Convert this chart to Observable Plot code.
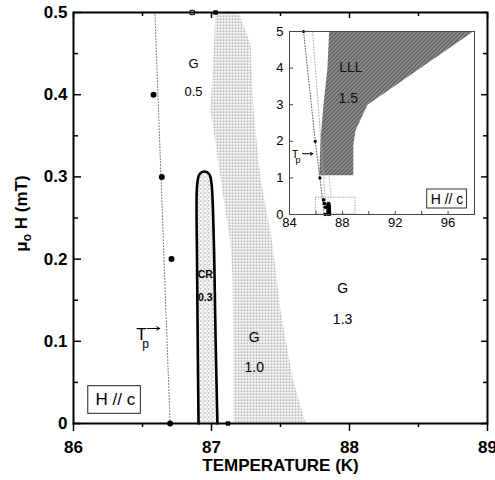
<!DOCTYPE html>
<html>
<head>
<meta charset="utf-8">
<script src="https://cdn.jsdelivr.net/npm/d3@7"></script>
<script src="https://cdn.jsdelivr.net/npm/@observablehq/plot@0.6"></script>
<style>
  body { margin: 0; background: #fff; }
  #wrap { position: relative; width: 495px; height: 480px; }
  #inset { position: absolute; left: 275px; top: 23px; }
</style>
</head>
<body>
<div id="wrap"><div id="main"></div><div id="inset"></div></div>
<script>
const FONT = "'Liberation Sans', Arial, Helvetica, sans-serif";

// ---------- main panel data ----------
const xTicksMajor = [86, 87, 88, 89];
const xTicksMinor = [86.5, 87.5, 88.5];
const yTicksMajor = [0, 0.1, 0.2, 0.3, 0.4, 0.5];
const yTicksMinor = [0.05, 0.15, 0.25, 0.35, 0.45];

// Tp line and points
const tpLineT = [86.70, 86.59];
const tpLineH = [0, 0.5];
const tpPointT = [86.58, 86.64, 86.71, 86.70];
const tpPointH = [0.4, 0.3, 0.2, 0];

// CR region outline
const crT = [86.906, 86.900, 86.895, 86.892, 86.897, 86.912, 86.948, 86.985, 87.000, 87.007, 87.020, 87.030, 87.043];
const crH = [0, 0.1, 0.2, 0.275, 0.292, 0.303, 0.3066, 0.303, 0.292, 0.275, 0.2, 0.1, 0];

// G (1.0) stippled region outline
const gT = [87.159, 87.159, 87.152, 87.138, 87.101, 87.065, 87.029, 86.993, 87.029, 87.196, 87.283, 87.304, 87.355, 87.442, 87.500, 87.587, 87.681];
const gH = [0, 0.097, 0.178, 0.219, 0.259, 0.299, 0.341, 0.381, 0.5, 0.5, 0.462, 0.381, 0.299, 0.219, 0.137, 0.056, 0];

// small markers
const openSqT = [86.86];
const openSqH = [0.5];
const fillSqT = [87.03, 87.12];
const fillSqH = [0.5, 0];

// labels
const topLabText = ["G", "0.5"];
const topLabT = [86.87, 86.87];
const topLabH = [0.437, 0.404];
const crLabText = ["CR", "0.3"];
const crLabT = [86.955, 86.955];
const crLabH = [0.181, 0.153];
const gLabText = ["G", "1.0", "G", "1.3"];
const gLabT = [87.31, 87.31, 87.95, 87.95];
const gLabH = [0.104, 0.068, 0.164, 0.127];
const tpLabT = [86.493];
const tpLabH = [0.108];
const tpArrowT = [86.536, 86.625];
const tpArrowH = [0.1156, 0.1156];
const boxT = [86.107, 86.488];
const boxH = [0.0118, 0.0454];
const boxLabT = [86.304];
const boxLabH = [0.029];
const boxText = "H // c";
const xLabel = "TEMPERATURE (K)";

// ---------- inset data ----------
const inXTicks = [84, 88, 92, 96];
const inXMinor = [86, 90, 94];
const inYTicks = [0, 1, 2, 3, 4, 5];
const lllT = [86.26, 86.34, 86.57, 86.87, 87.0, 97.9, 89.9, 89.0, 88.83, 88.83];
const lllH = [1.07, 2, 3, 4, 5, 5, 3.0, 2.3, 1.9, 1.07];
const inTpT = [85.06, 85.95, 86.3, 86.62];
const inTpH = [5, 2, 1, 0];
const inTpPtT = [85.06, 85.95, 86.3];
const inTpPtH = [5, 2, 1];
const inTp2T = [85.75, 86.8];
const inTp2H = [5, 0];
const inFaintT = [87.0, 87.15];
const inFaintH = [1.05, 0.45];
const zoomBoxT = [86, 89];
const zoomBoxH = [0, 0.46];
const lllLabText = ["LLL", "1.5"];
const lllLabT = [88.64, 88.45];
const lllLabH = [4.02, 3.18];
const inTpLabT = [84.42];
const inTpLabH = [1.64];
const inArrowT = [84.98, 85.76];
const inArrowH = [1.66, 1.66];
const inBoxT = [94.42, 97.43];
const inBoxH = [0.164, 0.683];
const inBoxLabT = [95.92];
const inBoxLabH = [0.42];

const pts = (xs, ys) => xs.map((x, i) => ({x, y: ys[i]}));
const labs = (xs, ys, ts) => xs.map((x, i) => ({x, y: ys[i], t: ts[i]}));

// ---------- main plot ----------
const W = 495, Ht = 480, ML = 73, MR = 8, MT = 12, MB = 57;
const FW = W - ML - MR, FH = Ht - MT - MB;

const main = Plot.plot({
  width: W, height: Ht,
  marginLeft: ML, marginRight: MR, marginTop: MT, marginBottom: MB,
  style: {fontFamily: FONT, background: "white", color: "black", overflow: "visible"},
  x: {domain: [86, 89]},
  y: {domain: [0, 0.5]},
  marks: [
    Plot.line(pts(gT, gH), {x: "x", y: "y", fill: "url(#stipG)", stroke: "none"}),
    Plot.line(pts(crT, crH), {x: "x", y: "y", fill: "url(#stipCR)", stroke: "black", strokeWidth: 2.6, curve: "catmull-rom"}),
    Plot.line(pts(tpLineT, tpLineH), {x: "x", y: "y", stroke: "#777", strokeWidth: 1, strokeDasharray: "1,2"}),
    Plot.dot(pts(tpPointT, tpPointH), {x: "x", y: "y", r: 3, fill: "black"}),
    Plot.dot(pts(openSqT, openSqH), {x: "x", y: "y", r: 2.5, symbol: "square", stroke: "black", strokeWidth: 1, fill: "white"}),
    Plot.dot(pts(fillSqT, fillSqH), {x: "x", y: "y", r: 2.5, symbol: "square", fill: "black"}),
    Plot.text(labs(topLabT, topLabH, topLabText), {x: "x", y: "y", text: "t", fontSize: 13}),
    Plot.text(labs(crLabT, crLabH, crLabText), {x: "x", y: "y", text: "t", fontSize: 10.5, fontWeight: "bold"}),
    Plot.text(labs(gLabT, gLabH, gLabText), {x: "x", y: "y", text: "t", fontSize: 14}),
    // Tp label
    Plot.text(pts(tpLabT, tpLabH), {x: "x", y: "y", text: () => "T", fontSize: 17}),
    Plot.text(pts(tpLabT, tpLabH), {x: "x", y: "y", text: () => "p", fontSize: 12, dx: 4, dy: 9}),
    Plot.arrow([0], {x1: () => tpArrowT[0], x2: () => tpArrowT[1], y1: () => tpArrowH[0], y2: () => tpArrowH[1], stroke: "black", strokeWidth: 1, headLength: 5}),
    // H // c box
    Plot.rect([0], {x1: () => boxT[0], x2: () => boxT[1], y1: () => boxH[0], y2: () => boxH[1], fill: "white", stroke: "#222", strokeWidth: 1}),
    Plot.text(pts(boxLabT, boxLabH), {x: "x", y: "y", text: () => boxText, fontSize: 17}),
    // frame
    Plot.frame({stroke: "black", strokeWidth: 2}),
    // inward ticks: left and right (y), top (x)
    Plot.tickY(yTicksMajor, {y: d => d, insetRight: FW - 8, stroke: "black", strokeWidth: 1.5}),
    Plot.tickY(yTicksMinor, {y: d => d, insetRight: FW - 5, stroke: "black", strokeWidth: 1.5}),
    Plot.tickY(yTicksMajor, {y: d => d, insetLeft: FW - 6, stroke: "black", strokeWidth: 1.5}),
    Plot.tickY(yTicksMinor, {y: d => d, insetLeft: FW - 4, stroke: "black", strokeWidth: 1.5}),
    Plot.tickX(xTicksMajor, {x: d => d, insetBottom: FH - 6, stroke: "black", strokeWidth: 1.5}),
    Plot.tickX(xTicksMinor, {x: d => d, insetBottom: FH - 4, stroke: "black", strokeWidth: 1.5}),
    // outward bottom ticks
    Plot.axisX({ticks: xTicksMajor, tickSize: 8, tickFormat: () => "", label: null, strokeWidth: 1.5}),
    Plot.axisX({ticks: xTicksMinor, tickSize: 4, tickFormat: () => "", label: null, strokeWidth: 1.5}),
    // tick labels
    Plot.axisX({ticks: xTicksMajor, tickSize: 0, tickPadding: 17, tickFormat: d => String(d), label: null, fontSize: 17, fontWeight: "bold"}),
    Plot.axisY({ticks: yTicksMajor, tickSize: 0, tickPadding: 6, tickFormat: d => String(d), label: null, fontSize: 17, fontWeight: "bold"}),
    // x axis title
    Plot.text([xLabel], {frameAnchor: "bottom", text: d => d, dy: 47, fontSize: 17, fontWeight: "bold"})
  ]
});

d3.select(main).insert("defs", ":first-child").html(`
  <pattern id="stipG" width="3" height="3" patternUnits="userSpaceOnUse">
    <rect width="2" height="1.5" fill="#a4a4a4"/>
  </pattern>
  <pattern id="stipCR" width="4" height="4" patternUnits="userSpaceOnUse">
    <rect x="0" y="0" width="1.2" height="1.2" fill="#8a8a8a"/>
    <rect x="2" y="2" width="1.2" height="1.2" fill="#9a9a9a"/>
    <rect x="3" y="0" width="1" height="1" fill="#c0c0c0"/>
  </pattern>
`);

// y-axis title with subscript
const yl = d3.select(main).append("text")
  .attr("transform", `translate(27,${MT + FH / 2 - 4}) rotate(-90)`)
  .attr("text-anchor", "middle")
  .attr("font-family", FONT)
  .attr("font-size", 17)
  .attr("font-weight", "bold")
  .attr("fill", "black");
yl.append("tspan").text("μ");
yl.append("tspan").attr("font-size", 12).attr("dy", 4).text("o");
yl.append("tspan").attr("dy", -4).text(" H (mT)");

document.getElementById("main").appendChild(main);

// ---------- inset ----------
const IML = 14, IMR = 3, IMT = 8, IMB = 16;
const IFW = 185, IFH = 183;
const inset = Plot.plot({
  width: IFW + IML + IMR, height: IFH + IMT + IMB,
  marginLeft: IML, marginRight: IMR, marginTop: IMT, marginBottom: IMB,
  style: {fontFamily: FONT, background: "white", color: "black", overflow: "visible"},
  x: {domain: [84, 98]},
  y: {domain: [0, 5]},
  marks: [
    Plot.line(pts(lllT, lllH), {x: "x", y: "y", fill: "url(#hatchLLL)", stroke: "none"}),
    Plot.rect([0], {x1: () => zoomBoxT[0], x2: () => zoomBoxT[1], y1: () => zoomBoxH[0], y2: () => zoomBoxH[1], fill: "none", stroke: "#888", strokeWidth: 1, strokeDasharray: "1,1.5"}),
    Plot.line(pts(inTpT, inTpH), {x: "x", y: "y", stroke: "#666", strokeWidth: 1, strokeDasharray: "1,1.8"}),
    Plot.line(pts(inTp2T, inTp2H), {x: "x", y: "y", stroke: "#aaa", strokeWidth: 1, strokeDasharray: "1,2"}),
    Plot.line(pts(inFaintT, inFaintH), {x: "x", y: "y", stroke: "#bbb", strokeWidth: 1, strokeDasharray: "1,2"}),
    Plot.dot(pts(inTpPtT, inTpPtH), {x: "x", y: "y", r: 1.6, fill: "black"}),
    Plot.dot(pts(tpPointT, tpPointH), {x: "x", y: "y", r: 1.8, fill: "black"}),
    Plot.line(pts(crT, crH), {x: "x", y: "y", fill: "black", stroke: "black", strokeWidth: 3}),
    Plot.text(labs(lllLabT, lllLabH, lllLabText), {x: "x", y: "y", text: "t", fontSize: 14, fill: "#111"}),
    Plot.text(pts(inTpLabT, inTpLabH), {x: "x", y: "y", text: () => "T", fontSize: 11}),
    Plot.text(pts(inTpLabT, inTpLabH), {x: "x", y: "y", text: () => "p", fontSize: 9, dx: 3, dy: 6}),
    Plot.arrow([0], {x1: () => inArrowT[0], x2: () => inArrowT[1], y1: () => inArrowH[0], y2: () => inArrowH[1], stroke: "black", strokeWidth: 1, headLength: 4}),
    Plot.rect([0], {x1: () => inBoxT[0], x2: () => inBoxT[1], y1: () => inBoxH[0], y2: () => inBoxH[1], fill: "white", stroke: "#333", strokeWidth: 1}),
    Plot.text(pts(inBoxLabT, inBoxLabH), {x: "x", y: "y", text: () => boxText, fontSize: 14}),
    Plot.frame({stroke: "#444", strokeWidth: 1}),
    Plot.tickY(inYTicks, {y: d => d, insetRight: IFW - 4, stroke: "#444"}),
    Plot.tickX(inXTicks.concat(inXMinor), {x: d => d, insetTop: IFH - 3, stroke: "#444"}),
    Plot.axisX({ticks: inXTicks, tickSize: 0, tickPadding: 3, tickFormat: d => String(d), label: null, fontSize: 13}),
    Plot.axisY({ticks: inYTicks, tickSize: 0, tickPadding: 6, tickFormat: d => String(d), label: null, fontSize: 13})
  ]
});

d3.select(inset).insert("defs", ":first-child").html(`
  <pattern id="hatchLLL" width="4" height="4" patternUnits="userSpaceOnUse">
    <rect width="4" height="4" fill="#5e5e5e"/>
    <path d="M-1,1 l2,-2 M0,4 l4,-4 M3,5 l2,-2" stroke="#d4d4d4" stroke-width="0.9"/>
  </pattern>
`);

document.getElementById("inset").appendChild(inset);
</script>
</body>
</html>
